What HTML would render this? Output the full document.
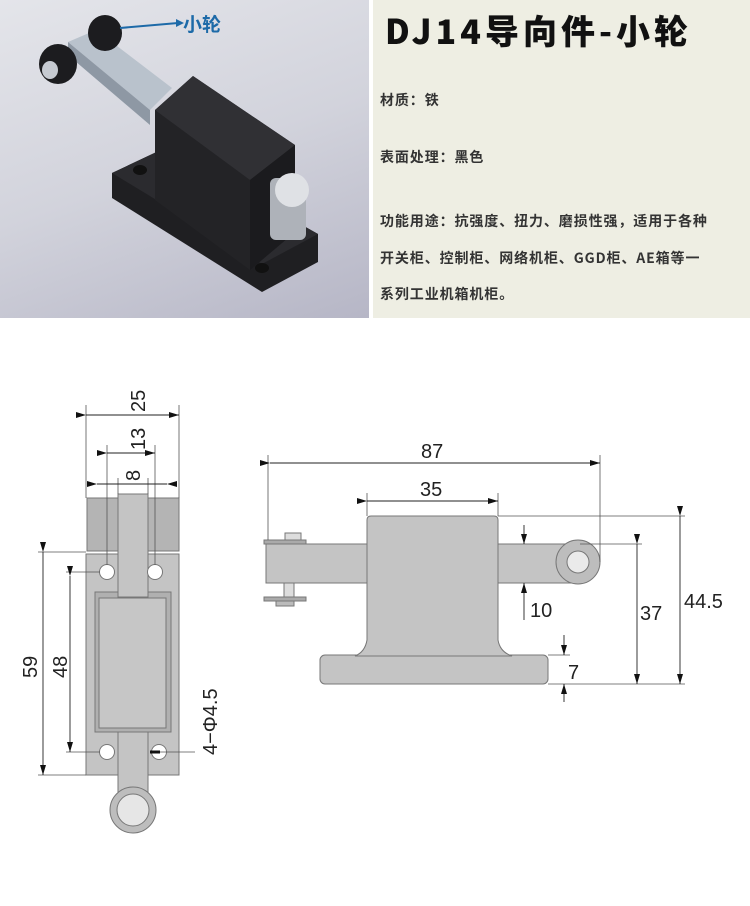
<!DOCTYPE html>
<html><head><meta charset="utf-8"><style>
body{margin:0;width:750px;height:906px;background:#fff;overflow:hidden;position:relative;font-family:"Liberation Sans","Noto Sans CJK SC",sans-serif}
.ph{position:absolute;left:0;top:0;width:369px;height:318px;background:linear-gradient(160deg,#e4e5ea 0%,#d2d3dc 50%,#b6b6c6 100%)}
.rp{position:absolute;left:373px;top:0;width:377px;height:318px;background:#eeeee3}
.t{position:absolute;left:12px;top:5px;font-size:34px;font-weight:900;color:#111;letter-spacing:4px;font-family:"Noto Sans CJK SC","Liberation Sans",sans-serif}
.l{position:absolute;left:7px;font-size:14px;font-weight:bold;color:#333;letter-spacing:0.9px;font-family:"Noto Sans CJK SC",sans-serif;white-space:nowrap}
</style></head><body>
<div class="ph">
<svg width="369" height="318">
 <polygon points="112,173 165,148 318,234 318,262 262,292 112,198" fill="#1f1f22"/>
 <polygon points="112,173 165,148 318,234 262,264" fill="#2b2b2f"/>
 <ellipse cx="140" cy="170" rx="7" ry="5" fill="#111"/>
 <ellipse cx="262" cy="268" rx="7" ry="5" fill="#111"/>
 <polygon points="155,110 193,76 295,145 295,232 250,270 155,200" fill="#232326"/>
 <polygon points="155,110 193,76 295,145 250,180" fill="#303034"/>
 <polygon points="250,180 295,145 295,232 250,270" fill="#1b1b1e"/>
 <polygon points="68,42 96,30 172,88 150,110" fill="#b9c2cc"/>
 <polygon points="68,42 150,110 150,125 68,55" fill="#8e98a4"/>
 <ellipse cx="105" cy="33" rx="17" ry="18" fill="#1c1c1f"/>
 <ellipse cx="58" cy="64" rx="19" ry="20" fill="#1c1c1f"/>
 <ellipse cx="50" cy="70" rx="8" ry="9" fill="#c6cad1"/>
 <rect x="270" y="178" width="36" height="62" rx="6" fill="#aeb2b9"/>
 <circle cx="292" cy="190" r="17" fill="#dfe1e5"/>
 <line x1="120" y1="28" x2="178" y2="23" stroke="#1d6aa8" stroke-width="2"/>
 <polygon points="176,19 184,23 176,27" fill="#1d6aa8"/>
 <text x="183" y="31" font-size="19" font-weight="bold" fill="#1d6aa8" font-family="Noto Sans CJK SC,sans-serif">小轮</text>
</svg>
</div>
<div class="rp">
 <div class="t">DJ14导向件-小轮</div>
 <div class="l" style="top:90px">材质：铁</div>
 <div class="l" style="top:147px">表面处理：黑色</div>
 <div class="l" style="top:211px">功能用途：抗强度、扭力、磨损性强，适用于各种</div>
 <div class="l" style="top:248px">开关柜、控制柜、网络机柜、GGD柜、AE箱等一</div>
 <div class="l" style="top:284px">系列工业机箱机柜。</div>
</div>
<svg style="position:absolute;left:0;top:0" width="750" height="906" font-family="Liberation Sans,sans-serif">
<defs><marker id="a" markerWidth="10" markerHeight="6" refX="10" refY="3" orient="auto" markerUnits="userSpaceOnUse"><path d="M0,0 L10,3 L0,6z" fill="#111"/></marker></defs>
<g stroke="#777" stroke-width="1">
 <rect x="87" y="498" width="31" height="53" fill="#b4b4b4"/>
 <rect x="148" y="498" width="31" height="53" fill="#b4b4b4"/>
 <rect x="86" y="554" width="93" height="221" fill="#c4c4c4"/>
 <rect x="95" y="592" width="76" height="140" fill="#b0b0b0"/>
 <rect x="99" y="598" width="67" height="130" fill="#c6c6c6"/>
 <rect x="118" y="494" width="30" height="103" fill="#c4c4c4"/>
 <rect x="118" y="732" width="30" height="60" fill="#c4c4c4"/>
 <circle cx="133" cy="810" r="23" fill="#bdbdbd"/>
 <circle cx="133" cy="810" r="16" fill="#e6e6e6"/>
 <circle cx="107" cy="572" r="7.5" fill="#fff"/>
 <circle cx="155" cy="572" r="7.5" fill="#fff"/>
 <circle cx="107" cy="752" r="7.5" fill="#fff"/>
 <circle cx="159" cy="752" r="7.5" fill="#fff"/>
 <rect x="266" y="544" width="312" height="39" fill="#c4c4c4"/>
 <rect x="284" y="583" width="10" height="14" fill="#ddd"/>
 <rect x="264" y="540" width="42" height="4" fill="#aaa"/>
 <rect x="264" y="597" width="42" height="4" fill="#aaa"/>
 <rect x="276" y="601" width="18" height="5" fill="#bbb"/>
 <rect x="285" y="533" width="16" height="7" fill="#ddd"/>
 <rect x="320" y="655" width="228" height="29" rx="5" fill="#c4c4c4"/>
 <path d="M367,520 Q367,516 371,516 L494,516 Q498,516 498,520 L498,640 Q500,652 512,656 L355,656 Q365,652 367,640Z" fill="#c4c4c4"/>
 <circle cx="578" cy="562" r="22" fill="#bdbdbd"/>
 <circle cx="578" cy="562" r="11" fill="#eaeaea"/>
</g>
<g stroke="#555" stroke-width="0.8" fill="none">
 <line x1="86" y1="405" x2="86" y2="498"/><line x1="179" y1="405" x2="179" y2="498"/>
 <line x1="107" y1="445" x2="107" y2="565"/><line x1="155" y1="445" x2="155" y2="565"/>
 <line x1="118" y1="478" x2="118" y2="494"/><line x1="148" y1="478" x2="148" y2="494"/>
 <line x1="38" y1="552" x2="86" y2="552"/><line x1="38" y1="775" x2="86" y2="775"/>
 <line x1="66" y1="572" x2="100" y2="572"/><line x1="66" y1="752" x2="100" y2="752"/>
 <line x1="155" y1="752" x2="195" y2="752"/>
 <line x1="268" y1="455" x2="268" y2="540"/><line x1="600" y1="455" x2="600" y2="562"/>
 <line x1="367" y1="493" x2="367" y2="516"/><line x1="498" y1="493" x2="498" y2="516"/>
 <line x1="498" y1="516" x2="685" y2="516"/><line x1="580" y1="544" x2="642" y2="544"/>
 <line x1="548" y1="684" x2="685" y2="684"/><line x1="548" y1="655" x2="570" y2="655"/>
</g>
<g stroke="#222" stroke-width="0.9">
 <line x1="86" y1="415" x2="179" y2="415" marker-start="url(#a)" marker-end="url(#a)"/>
 <line x1="107" y1="453" x2="155" y2="453" marker-start="url(#a)" marker-end="url(#a)"/>
 <line x1="97" y1="484" x2="118" y2="484" marker-start="url(#a)"/><line x1="118" y1="484" x2="148" y2="484"/>
 <line x1="167" y1="484" x2="148" y2="484" marker-start="url(#a)"/>
 <line x1="43" y1="552" x2="43" y2="775" marker-start="url(#a)" marker-end="url(#a)"/>
 <line x1="70" y1="576" x2="70" y2="752" marker-start="url(#a)" marker-end="url(#a)"/>
 <line x1="270" y1="463" x2="600" y2="463" marker-start="url(#a)" marker-end="url(#a)"/>
 <line x1="367" y1="501" x2="498" y2="501" marker-start="url(#a)" marker-end="url(#a)"/>
 <line x1="680" y1="516" x2="680" y2="684" marker-start="url(#a)" marker-end="url(#a)"/>
 <line x1="637" y1="544" x2="637" y2="684" marker-start="url(#a)" marker-end="url(#a)"/>
 <line x1="524" y1="525" x2="524" y2="544" marker-end="url(#a)"/><line x1="524" y1="620" x2="524" y2="583" marker-end="url(#a)"/>
 <line x1="564" y1="635" x2="564" y2="655" marker-end="url(#a)"/><line x1="564" y1="702" x2="564" y2="684" marker-end="url(#a)"/>
</g>
<line x1="150" y1="752" x2="160" y2="752" stroke="#111" stroke-width="3"/>
<g font-size="20" fill="#222">
 <text transform="translate(145,412) rotate(-90)">25</text>
 <text transform="translate(145,450) rotate(-90)">13</text>
 <text transform="translate(140,481) rotate(-90)">8</text>
 <text transform="translate(37,678) rotate(-90)">59</text>
 <text transform="translate(67,678) rotate(-90)">48</text>
 <text transform="translate(217,755) rotate(-90)">4−Φ4.5</text>
 <text x="421" y="458">87</text>
 <text x="420" y="496">35</text>
 <text x="530" y="617">10</text>
 <text x="640" y="620">37</text>
 <text x="684" y="608">44.5</text>
 <text x="568" y="679">7</text>
</g>
</svg>
</body></html>
